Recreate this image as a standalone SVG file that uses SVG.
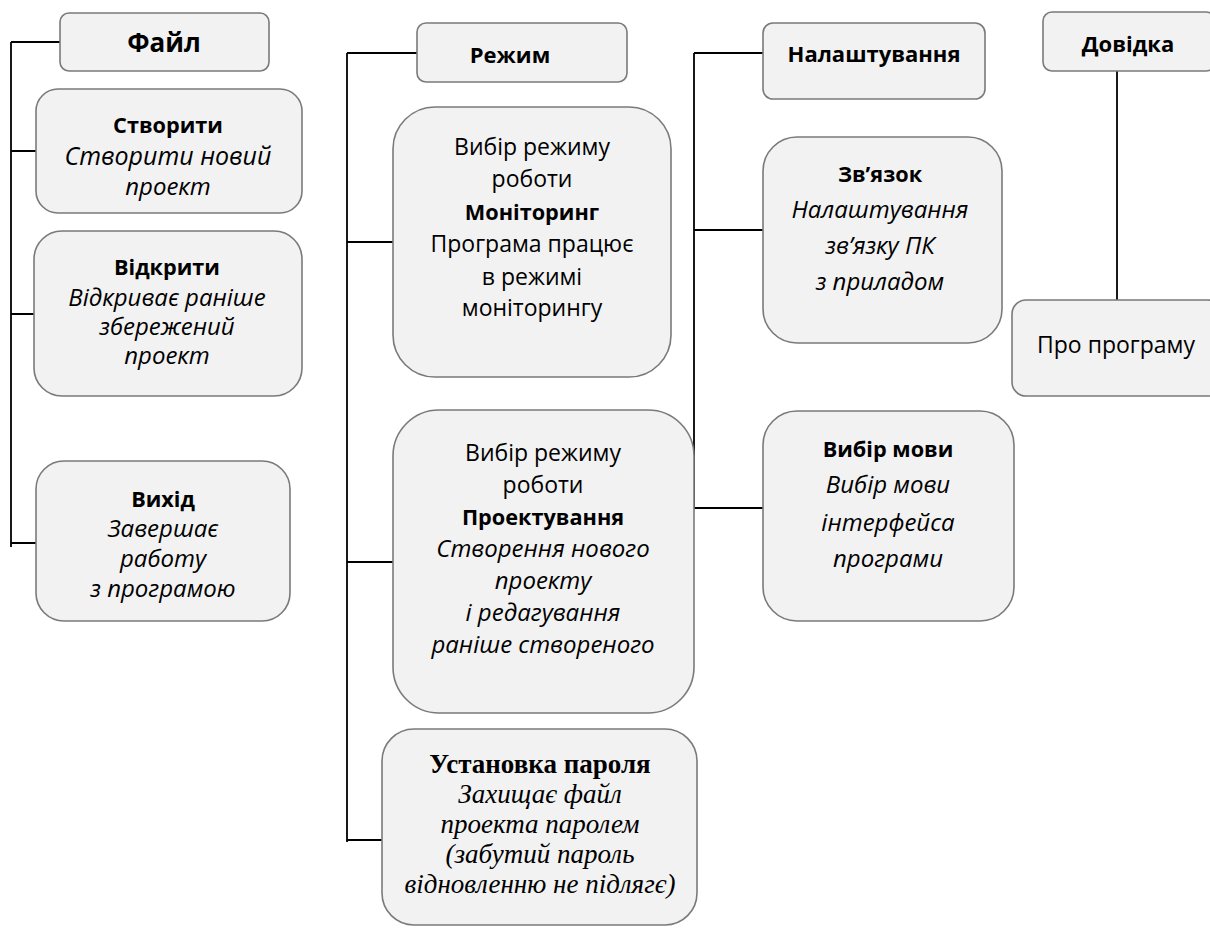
<svg xmlns="http://www.w3.org/2000/svg" width="1210" height="944" viewBox="0 0 1210 944">
<style>
.box{fill:#f2f2f2;stroke:#7a7a7a;stroke-width:1.6}
.c{fill:none;stroke:#000;stroke-width:1.8}
text{font-family:"Open Sans","Liberation Sans",sans-serif;font-size:23px;fill:#000;text-anchor:middle}
.b{font-weight:bold;font-size:21.7px}
.i{font-style:italic;font-size:24px}
.h{font-weight:bold;font-size:22px}
.hb{font-weight:bold;font-size:26px}
.s{font-family:"Liberation Serif",serif;font-size:27px}
</style>
<rect width="1210" height="944" fill="#fff"/>
<g id="connectors">
<path class="c" d="M11 42V547M11 42H60M11 151H36M11 314H34M11 543H36"/>
<path class="c" d="M347 53V842M347 53H417M347 242H393M347 562H393M347 840H382"/>
<path class="c" d="M694 53V508M694 53H763M694 230H763M694 508H763"/>
<path class="c" d="M1117 71V300"/>
</g>
<g id="fajl"><rect class="box" x="60" y="13" width="209" height="58" rx="9"/><text class="hb" x="164" y="52">Файл</text></g>
<g id="stvoryty"><rect class="box" x="36" y="89" width="266" height="124" rx="22"/>
<text class="b" x="168" y="133">Створити</text><text class="i" x="168" y="165" style="font-size:25px">Створити новий</text><text class="i" x="168" y="195">проект</text></g>
<g id="vidkryty"><rect class="box" x="34" y="231" width="268" height="165" rx="28"/>
<text class="b" x="167" y="275">Відкрити</text><text class="i" x="167" y="306">Відкриває раніше</text><text class="i" x="167" y="335">збережений</text><text class="i" x="167" y="364">проект</text></g>
<g id="vykhid"><rect class="box" x="36" y="461" width="254" height="160" rx="28"/>
<text class="b" x="163" y="507">Вихід</text><text class="i" x="163" y="537">Завершає</text><text class="i" x="163" y="567">работу</text><text class="i" x="163" y="597">з програмою</text></g>
<g id="rezhym"><rect class="box" x="417" y="23" width="210" height="59" rx="9"/><text class="h" x="510" y="63">Режим</text></g>
<g id="monitoring"><rect class="box" x="393" y="107" width="278" height="270" rx="42"/>
<text x="532" y="155">Вибір режиму</text><text x="532" y="187">роботи</text><text class="b" x="532" y="220">Моніторинг</text><text x="532" y="252">Програма працює</text><text x="532" y="285">в режимі</text><text x="532" y="316">моніторингу</text></g>
<g id="proektuvannia"><rect class="box" x="393" y="410" width="301" height="303" rx="46"/>
<text x="543" y="461">Вибір режиму</text><text x="543" y="493">роботи</text><text class="b" x="543" y="525">Проектування</text><text class="i" x="543" y="557">Створення нового</text><text class="i" x="543" y="589">проекту</text><text class="i" x="543" y="621">і редагування</text><text class="i" x="543" y="653">раніше створеного</text></g>
<g id="parol"><rect class="box" x="382" y="729" width="315" height="196" rx="32"/>
<text class="s b" x="540" y="773">Установка пароля</text><text class="s i" x="540" y="803">Захищає файл</text><text class="s i" x="540" y="833">проекта паролем</text><text class="s i" x="540" y="863">(забутий пароль</text><text class="s i" x="540" y="893">відновленню не підлягє)</text></g>
<g id="nalashtuvannia"><rect class="box" x="763" y="23" width="222" height="76" rx="10"/><text class="h" x="874" y="62">Налаштування</text></g>
<g id="zviazok"><rect class="box" x="763" y="137" width="239" height="206" rx="34"/>
<text class="b" x="880" y="182">Зв’язок</text><text class="i" x="880" y="218">Налаштування</text><text class="i" x="880" y="254">зв’язку ПК</text><text class="i" x="880" y="290">з приладом</text></g>
<g id="vybir-movy"><rect class="box" x="763" y="411" width="251" height="210" rx="34"/>
<text class="b" x="888" y="457">Вибір мови</text><text class="i" x="888" y="493">Вибір мови</text><text class="i" x="888" y="531">інтерфейса</text><text class="i" x="888" y="567">програми</text></g>
<g id="dovidka"><rect class="box" x="1043" y="12" width="172" height="59" rx="9"/><text class="h" x="1128" y="52">Довідка</text></g>
<g id="pro-prohramu"><rect class="box" x="1012" y="300" width="210" height="96" rx="14"/><text x="1116" y="353">Про програму</text></g>
</svg>
